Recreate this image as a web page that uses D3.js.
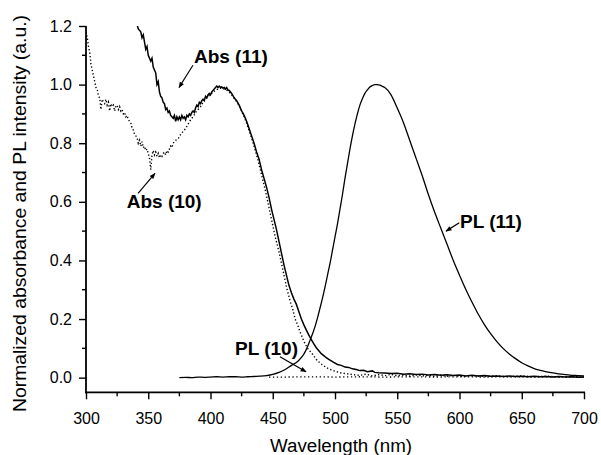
<!DOCTYPE html>
<html>
<head>
<meta charset="utf-8">
<script src="https://cdn.jsdelivr.net/npm/d3@7"></script>
<style>
  body { margin: 0; background: #fff; }
  text { font-family: Arial, "Liberation Sans", sans-serif; fill: #000; }
</style>
</head>
<body>
<svg id="chart" width="601" height="455"></svg>
<script>
var width = 601, height = 455

// x ticks / y ticks
var xTicks = [300, 350, 400, 450, 500, 550, 600, 650, 700]
var yTicks = [0.0, 0.2, 0.4, 0.6, 0.8, 1.0, 1.2]

// [wavelength nm, value]
var abs11 = [
  [340,1.22],[342,1.19],[344,1.18],[345,1.16],[346,1.17],[348,1.12],[349,1.13],[350,1.10],
  [352,1.08],[353,1.09],[354,1.06],[355,1.05],[356,1.04],[357,1.00],[358,1.01],[359,0.975],
  [360,0.96],[361,0.955],[362,0.94],[363,0.935],[364,0.915],[365,0.92],[366,0.905],[367,0.91],
  [368,0.895],[369,0.89],[370,0.885],[371,0.895],[372,0.875],[373,0.89],[374,0.88],[375,0.89],
  [376,0.88],[377,0.895],[378,0.885],[379,0.89],[380,0.88],[381,0.895],[382,0.89],[383,0.9],
  [384,0.895],[385,0.905],[386,0.91],[387,0.905],[388,0.92],[389,0.93],[390,0.925],[391,0.94],
  [392,0.935],[393,0.945],[394,0.95],[395,0.945],[396,0.96],[397,0.955],[398,0.965],[399,0.97],
  [400,0.965],[401,0.975],[402,0.98],[403,0.985],[404,0.99],[405,0.995],[406,0.99],[407,0.995],
  [408,0.99],[409,0.992],[410,0.988],[411,0.99],[412,0.985],[413,0.99],[414,0.982],[415,0.98],
  [417,0.97],[419,0.955],[421,0.945],[423,0.93],[425,0.91],[427,0.895],[429,0.875],[431,0.85],
  [433,0.825],[435,0.8],[437,0.77],[439,0.745],[441,0.71],[443,0.68],[445,0.65],[447,0.615],
  [449,0.575],[451,0.54],[453,0.505],[455,0.465],[457,0.425],[459,0.385],[461,0.35],[463,0.315],
  [465,0.29],[467,0.268],[469,0.25],[471,0.225],[473,0.2],[475,0.18],[477,0.162],[479,0.145],
  [481,0.13],[483,0.115],[485,0.102],[487,0.092],[489,0.082],[491,0.075],[493,0.068],[495,0.062],
  [497,0.057],[499,0.052],[502,0.045],[505,0.042],[508,0.036],[511,0.035],[514,0.03],[517,0.028],
  [520,0.024],[523,0.025],[526,0.02],[530,0.023],[532,0.018],[535,0.017],[540,0.016],[545,0.014],
  [550,0.015],[555,0.012],[560,0.013],[565,0.011],[570,0.012],[575,0.009],[580,0.011],[585,0.008],
  [590,0.01],[595,0.007],[600,0.009],[605,0.006],[610,0.008],[615,0.006],[620,0.007],[625,0.005],
  [630,0.006],[635,0.004],[640,0.006],[645,0.004],[650,0.005],[655,0.003],[660,0.005],[665,0.003],
  [670,0.004],[675,0.002],[680,0.004],[685,0.002],[690,0.003],[695,0.001],[700,0.002]
]

var abs10 = [
  [300,1.18],[301,1.16],[302,1.13],[303,1.11],[304,1.07],[305,1.05],[306,1.03],[307,1.01],
  [308,0.99],[309,0.985],[310,0.96],[311,0.955],[312,0.915],[313,0.95],[314,0.94],[315,0.935],
  [316,0.95],[317,0.93],[318,0.94],[319,0.91],[320,0.935],[321,0.925],[322,0.93],[323,0.91],
  [324,0.925],[325,0.93],[326,0.915],[327,0.925],[328,0.91],[329,0.915],[330,0.9],[331,0.905],
  [332,0.89],[333,0.895],[334,0.88],[335,0.875],[336,0.87],[337,0.85],[338,0.845],[339,0.83],
  [340,0.825],[341,0.82],[342,0.8],[343,0.81],[344,0.79],[345,0.805],[346,0.785],[347,0.79],
  [348,0.775],[349,0.78],[350,0.765],[351,0.75],[352,0.71],[353,0.76],[354,0.775],[355,0.76],
  [356,0.77],[357,0.755],[358,0.765],[359,0.75],[360,0.76],[361,0.755],[362,0.765],[363,0.77],
  [364,0.76],[365,0.775],[366,0.77],[367,0.78],[368,0.79],[369,0.785],[370,0.8],[372,0.81],
  [374,0.815],[376,0.83],[378,0.84],[380,0.85],[382,0.865],[384,0.88],[386,0.89],[388,0.905],
  [390,0.915],[392,0.925],[394,0.94],[396,0.95],[398,0.96],[400,0.965],[402,0.975],[404,0.98],
  [406,0.985],[408,0.988],[410,0.985],[412,0.985],[414,0.978],[416,0.97],[418,0.96],[420,0.948],
  [422,0.935],[424,0.92],[426,0.9],[428,0.88],[430,0.855],[432,0.83],[434,0.805],[436,0.775],
  [438,0.745],[440,0.71],[442,0.675],[444,0.64],[446,0.6],[448,0.56],[450,0.52],[452,0.48],
  [455,0.43],[458,0.37],[461,0.31],[464,0.26],[466,0.235],[468,0.2],[470,0.18],[472,0.155],
  [474,0.135],[476,0.115],[478,0.1],[480,0.09],[482,0.08],[485,0.062],[488,0.05],[491,0.04],
  [495,0.03],[500,0.022],[505,0.016],[510,0.013],[515,0.01],[520,0.008],[525,0.012],[530,0.006],
  [535,0.01],[540,0.007],[545,0.011],[550,0.006],[555,0.009],[560,0.005],[565,0.01],[570,0.006],
  [575,0.008],[580,0.004],[585,0.009],[590,0.005],[595,0.008],[600,0.004],[610,0.007],[620,0.004],
  [630,0.006],[640,0.003],[650,0.006],[660,0.003],[670,0.005],[680,0.002],[690,0.004],[700,0.002]
]

var pl11 = [
  [375,0.0],[380,0.001],[385,0.0],[390,0.002],[395,0.001],[400,0.002],[405,0.003],[410,0.002],
  [415,0.003],[420,0.003],[425,0.002],[430,0.003],[435,0.004],[440,0.005],[445,0.007],[450,0.011],
  [455,0.018],[460,0.028],[465,0.042],[470,0.055],[472,0.064],[474,0.074],[476,0.088],[478,0.106],
  [480,0.128],[482,0.15],[484,0.175],[486,0.205],[488,0.238],[490,0.272],[492,0.31],[494,0.35],
  [496,0.39],[498,0.435],[500,0.48],[502,0.525],[504,0.575],[506,0.625],[508,0.68],[510,0.73],
  [512,0.78],[514,0.825],[516,0.865],[518,0.9],[520,0.93],[522,0.952],[524,0.97],[526,0.982],
  [528,0.992],[530,0.997],[532,1.0],[534,1.0],[536,0.998],[538,0.994],[540,0.99],[545,0.965],
  [550,0.92],[555,0.87],[560,0.81],[565,0.75],[570,0.69],[575,0.625],[580,0.565],[585,0.51],
  [590,0.455],[595,0.4],[600,0.35],[605,0.302],[610,0.258],[615,0.217],[620,0.181],[625,0.15],
  [630,0.123],[635,0.1],[640,0.081],[645,0.065],[650,0.051],[655,0.04],[660,0.031],[665,0.025],
  [670,0.02],[675,0.016],[680,0.013],[685,0.01],[690,0.008],[695,0.007],[700,0.006]
]

var pl10 = [
  [447,0.002],[460,0.002],[480,0.003],[500,0.002],[520,0.003],[540,0.002],[560,0.003],
  [580,0.002],[600,0.003],[620,0.002],[640,0.003],[660,0.002],[680,0.003],[700,0.002]
]

// label text, text anchor [nm, v], arrow from [nm, v] to [nm, v]
var labels = [
  {text: "Abs (11)", at: [386.7, 1.074], from: [385.9, 1.066], to: [374.7, 0.99]},
  {text: "Abs (10)", at: [332.7, 0.578], from: [341.8, 0.629], to: [355.4, 0.697]},
  {text: "PL (11)",  at: [600.4, 0.512], from: [599.8, 0.529], to: [589.2, 0.50]},
  {text: "PL (10)",  at: [419.7, 0.077], from: [455.8, 0.0715], to: [476.7, 0.02]}
]

var x = d3.scaleLinear().domain([300, 700]).range([86, 584])
var y = d3.scaleLinear().domain([-0.05, 1.2]).range([392.3, 26])

var svg = d3.select('#chart')

svg.append('defs').append('clipPath').attr('id', 'plotclip')
  .append('rect')
  .attr('x', x(300)).attr('y', y(1.2))
  .attr('width', x(700) - x(300) + 2).attr('height', y(-0.05) - y(1.2))

var marker = svg.select('defs').append('marker')
  .attr('id', 'arrow')
  .attr('viewBox', '0 0 10 10')
  .attr('refX', 9).attr('refY', 5)
  .attr('markerWidth', 7).attr('markerHeight', 6)
  .attr('markerUnits', 'userSpaceOnUse')
  .attr('orient', 'auto')
marker.append('path').attr('d', 'M0,1 L10,5 L0,9 Z').attr('fill', '#000')

// axes
var xAxis = d3.axisBottom(x).tickValues(xTicks).tickSize(7).tickSizeOuter(0).tickPadding(13)
  .tickFormat(d3.format('d'))
var yAxis = d3.axisLeft(y).tickValues(yTicks).tickSize(7).tickSizeOuter(0).tickPadding(7)
  .tickFormat(d3.format('.1f'))

var gx = svg.append('g').attr('transform', 'translate(0,' + y(-0.05) + ')').call(xAxis)
var gy = svg.append('g').attr('transform', 'translate(' + x(300) + ',0)').call(yAxis)

gx.select('.domain').attr('d', 'M' + (x(300) - 1) + ',0H' + (x(700) + 1))
gy.select('.domain').attr('d', 'M0,' + y(1.2) + 'V' + (y(-0.05) + 1))

;[gx, gy].forEach(function(g) {
  g.select('.domain').attr('stroke', '#000').attr('stroke-width', 1.8)
  g.selectAll('.tick line').attr('stroke', '#000').attr('stroke-width', 1.4)
  g.selectAll('.tick text').style('font-size', '16px').attr('fill', '#000')
})

// minor ticks
var xMinor = d3.range(325, 700, 50)
var yMinor = d3.range(0.1, 1.2, 0.2)
gx.selectAll('.minor').data(xMinor).enter().append('line')
  .attr('x1', d => x(d)).attr('x2', d => x(d))
  .attr('y1', 0).attr('y2', 4)
  .attr('stroke', '#000').attr('stroke-width', 1.4)
gy.selectAll('.minor').data(yMinor).enter().append('line')
  .attr('y1', d => y(d)).attr('y2', d => y(d))
  .attr('x1', 0).attr('x2', -4)
  .attr('stroke', '#000').attr('stroke-width', 1.4)

// axis titles
svg.append('text')
  .attr('x', 341).attr('y', 452)
  .attr('text-anchor', 'middle')
  .attr('textLength', 142).attr('lengthAdjust', 'spacingAndGlyphs')
  .style('font-size', '18px')
  .text('Wavelength (nm)')

svg.append('text')
  .attr('transform', 'translate(25.5,213.5) rotate(-90)')
  .attr('text-anchor', 'middle')
  .attr('textLength', 397).attr('lengthAdjust', 'spacingAndGlyphs')
  .style('font-size', '18px')
  .text('Normalized absorbance and PL intensity (a.u.)')

// curves
var line = d3.line().x(d => x(d[0])).y(d => y(d[1]))
var smooth = d3.line().x(d => x(d[0])).y(d => y(d[1])).curve(d3.curveMonotoneX)

var plot = svg.append('g').attr('clip-path', 'url(#plotclip)')

plot.append('path').datum(abs10).attr('d', line)
  .attr('fill', 'none').attr('stroke', '#000').attr('stroke-width', 1.4)
  .attr('stroke-dasharray', '1.3,2.2')
plot.append('path').datum(pl10).attr('d', line)
  .attr('fill', 'none').attr('stroke', '#000').attr('stroke-width', 1.3)
  .attr('stroke-dasharray', '1.3,2.6')
plot.append('path').datum(pl11).attr('d', smooth)
  .attr('fill', 'none').attr('stroke', '#000').attr('stroke-width', 1.3)
plot.append('path').datum(abs11).attr('d', line)
  .attr('fill', 'none').attr('stroke', '#000').attr('stroke-width', 1.5)

// annotations
var ann = svg.append('g')
ann.selectAll('line').data(labels).enter().append('line')
  .attr('x1', d => x(d.from[0])).attr('y1', d => y(d.from[1]))
  .attr('x2', d => x(d.to[0])).attr('y2', d => y(d.to[1]))
  .attr('stroke', '#000').attr('stroke-width', 1.2)
  .attr('marker-end', 'url(#arrow)')
ann.selectAll('text').data(labels).enter().append('text')
  .attr('x', d => x(d.at[0])).attr('y', d => y(d.at[1]))
  .style('font-size', '19px').style('font-weight', 'bold')
  .text(d => d.text)
</script>
</body>
</html>
